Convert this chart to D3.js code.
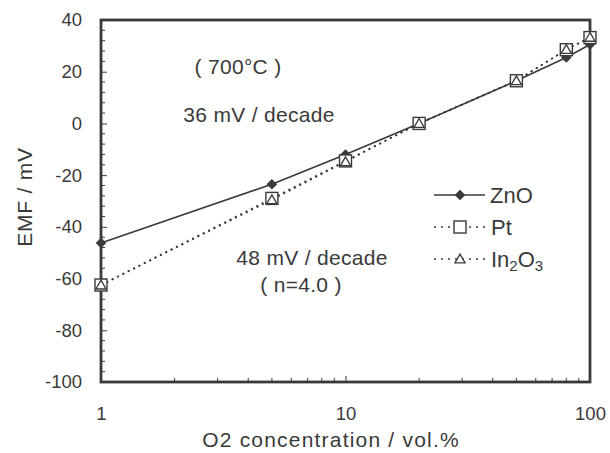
<!DOCTYPE html>
<html><head><meta charset="utf-8">
<script src="https://cdn.jsdelivr.net/npm/d3@7"></script>
<style>body{margin:0;background:#fff}svg{display:block}text{font-family:"Liberation Sans",Arial,sans-serif;fill:#3a3a3a}</style>
</head><body>
<script>
const concentrations = [1, 5, 10, 20, 50, 80, 100];
const znoEMF = [-46.2, -23.5, -12, 0, 16.5, 25.5, 30.5];
const ptEMF = [-62.5, -29, -14.5, 0, 16.5, 28.5, 33.2];
const in2o3EMF = [-62.5, -29.5, -14.8, 0, 16.5, 28.6, 33.3];
const yTicks = [40, 20, 0, -20, -40, -60, -80, -100];
const xTicks = [1, 10, 100];

const W = 610, H = 453;
const m = {l: 101, r: 20, t: 20, b: 71};
const svg = d3.select("body").append("svg").attr("width", W).attr("height", H);
const x = d3.scaleLog().domain([1, 100]).range([m.l, W - m.r]);
const y = d3.scaleLinear().domain([-100, 40]).range([H - m.b, m.t]);
const ink = "#3a3a3a";

// minor ticks
const g = svg.append("g");
const xMinor = [];
for (let d = 1; d < 100; d *= 10) for (let k = 2; k <= 9; k++) xMinor.push(d * k);
g.selectAll(".xm").data(xMinor).join("line")
  .attr("x1", d => x(d)).attr("x2", d => x(d))
  .attr("y1", y(-100)).attr("y2", y(-100) - 4).attr("stroke", ink).attr("stroke-width", 1);
const yMinor = d3.range(-100, 41, 4).filter(v => v % 20 !== 0);
g.selectAll(".ym").data(yMinor).join("line")
  .attr("x1", x(1)).attr("x2", x(1) + 4)
  .attr("y1", d => y(d)).attr("y2", d => y(d)).attr("stroke", ink).attr("stroke-width", 1);

// axes
const yAxis = d3.axisLeft(y).tickValues(yTicks).tickSize(-6).tickPadding(19).tickFormat(d => String(d));
const ya = svg.append("g").attr("transform", `translate(${m.l},0)`).call(yAxis);
const xAxis = d3.axisBottom(x).tickValues(xTicks).tickSize(-6).tickPadding(25).tickFormat(d => String(d));
const xa = svg.append("g").attr("transform", `translate(0,${H - m.b})`).call(xAxis);
[ya, xa].forEach(a => {
  a.select(".domain").remove();
  a.selectAll(".tick line").attr("stroke", ink).attr("stroke-width", 1);
  a.selectAll(".tick text").attr("font-size", 18.5).style("fill", ink).attr("font-family", "Liberation Sans, Arial, sans-serif");
});

// frame
svg.append("rect").attr("x", m.l).attr("y", m.t).attr("width", W - m.r - m.l).attr("height", H - m.b - m.t)
  .attr("fill", "none").attr("stroke", ink).attr("stroke-width", 2.8);

// lines
const line = vals => d3.line().x((d, i) => x(concentrations[i])).y(d => y(d))(vals);
svg.append("path").attr("d", line(ptEMF)).attr("fill", "none").attr("stroke", ink).attr("stroke-width", 1.6).attr("stroke-dasharray", "2,4");
svg.append("path").attr("d", line(in2o3EMF)).attr("fill", "none").attr("stroke", ink).attr("stroke-width", 1.6).attr("stroke-dasharray", "2,4");
svg.append("path").attr("d", line(znoEMF)).attr("fill", "none").attr("stroke", ink).attr("stroke-width", 1.6);

// markers
const diamond = d3.symbol().type(d3.symbolSquare).size(56);
const tri = d3.symbol().type(d3.symbolTriangle).size(45);
svg.selectAll(".zn").data(znoEMF).join("path").attr("d", diamond)
  .attr("transform", (d, i) => `translate(${x(concentrations[i])},${y(d)}) rotate(45)`).attr("fill", ink);
svg.selectAll(".pt").data(ptEMF).join("rect")
  .attr("x", (d, i) => x(concentrations[i]) - 6).attr("y", d => y(d) - 6).attr("width", 12).attr("height", 12)
  .attr("fill", "#fff").attr("stroke", ink).attr("stroke-width", 1.4);
svg.selectAll(".in").data(in2o3EMF).join("path").attr("d", tri)
  .attr("transform", (d, i) => `translate(${x(concentrations[i])},${y(d) + 1})`)
  .attr("fill", "#fff").attr("stroke", ink).attr("stroke-width", 1.3);

// axis titles
svg.append("text").attr("x", 331).attr("y", 447).attr("text-anchor", "middle").attr("font-size", 21).attr("letter-spacing", 1.2).text("O2 concentration / vol.%");
svg.append("text").attr("transform", "translate(32,197) rotate(-90)").attr("text-anchor", "middle").attr("font-size", 21).attr("letter-spacing", 0.8).text("EMF / mV");

// annotations
const ann = [["( 700°C )", 238, 74], ["36 mV / decade", 259, 122], ["48 mV / decade", 312, 265], ["( n=4.0 )", 301, 292]];
svg.selectAll(".ann").data(ann).join("text").attr("x", d => d[1]).attr("y", d => d[2])
  .attr("text-anchor", "middle").attr("font-size", 21).attr("letter-spacing", 0.3).text(d => d[0]);

// legend
const lg = svg.append("g");
const ly = [195, 227, 259];
lg.append("line").attr("x1", 434).attr("x2", 485).attr("y1", ly[0]).attr("y2", ly[0]).attr("stroke", ink).attr("stroke-width", 1.6);
lg.append("path").attr("d", diamond).attr("transform", `translate(460,${ly[0]}) rotate(45)`).attr("fill", ink);
[1, 2].forEach(i => lg.append("line").attr("x1", 434).attr("x2", 485).attr("y1", ly[i]).attr("y2", ly[i])
  .attr("stroke", ink).attr("stroke-width", 1.6).attr("stroke-dasharray", "2,5"));
lg.append("rect").attr("x", 454).attr("y", ly[1] - 6).attr("width", 12).attr("height", 12).attr("fill", "#fff").attr("stroke", ink).attr("stroke-width", 1.4);
lg.append("path").attr("d", tri).attr("transform", `translate(460,${ly[2] + 1})`).attr("fill", "#fff").attr("stroke", ink).attr("stroke-width", 1.3);
lg.append("text").attr("x", 490).attr("y", ly[0] + 8).attr("font-size", 22).text("ZnO");
lg.append("text").attr("x", 491).attr("y", ly[1] + 8).attr("font-size", 22).text("Pt");
const t3 = lg.append("text").attr("x", 491).attr("y", ly[2] + 8).attr("font-size", 22);
t3.append("tspan").text("In");
t3.append("tspan").attr("font-size", 15).attr("dy", 4).text("2");
t3.append("tspan").attr("dy", -4).text("O");
t3.append("tspan").attr("font-size", 15).attr("dy", 4).text("3");
</script>
</body></html>
